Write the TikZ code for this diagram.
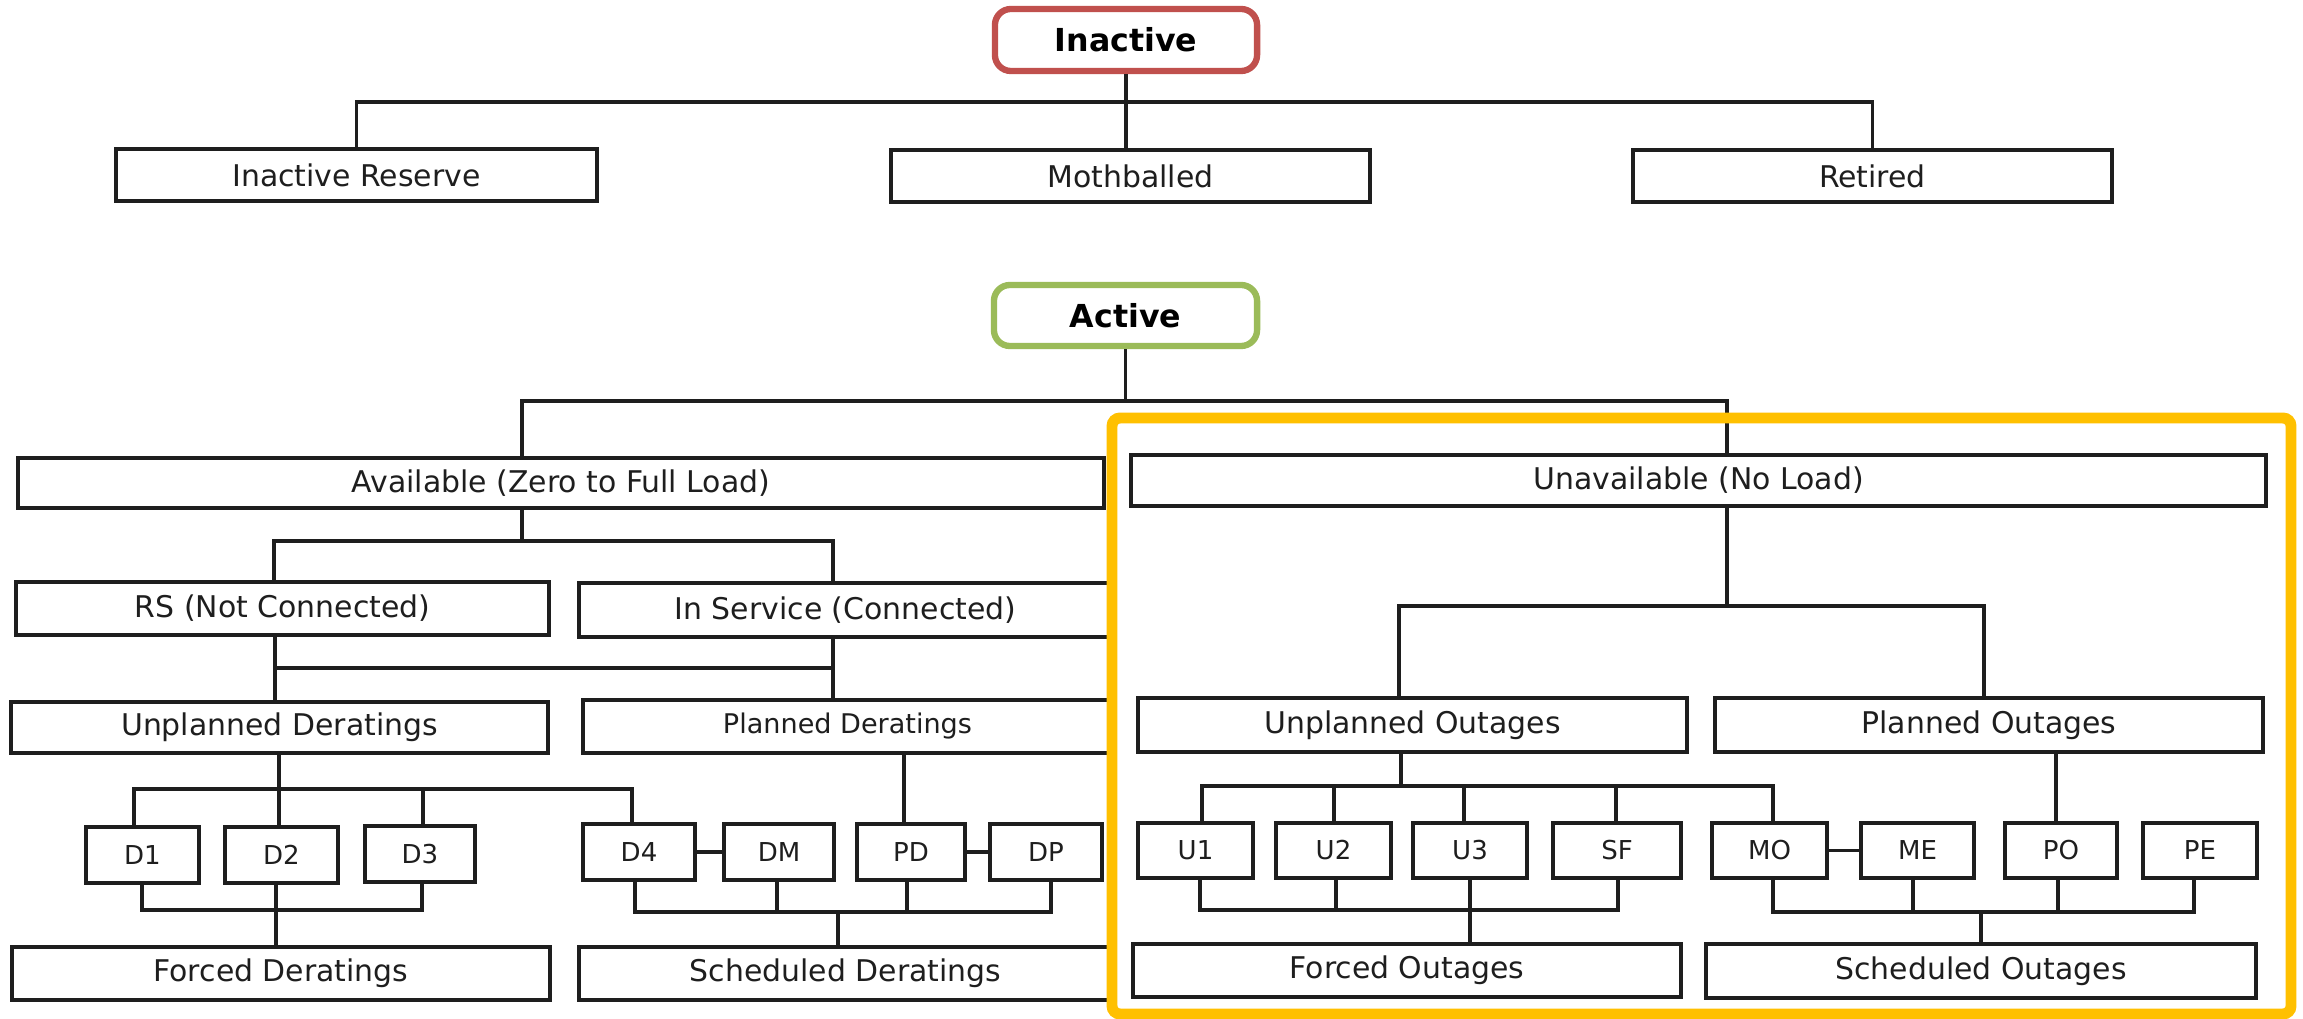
\documentclass[tikz,border=0pt]{standalone}
\usepackage{fontspec}
\setmainfont{DejaVu Sans}
\definecolor{inactred}{HTML}{C0504D}
\definecolor{actgreen}{HTML}{9BBB59}
\definecolor{frameyellow}{HTML}{FFC000}
\definecolor{inkgrey}{HTML}{1E1E1E}

% state box placed by its corners: [style]{x1}{y1}{x2}{y2}{name}{text}
\newcommand\statebox[7][box]{%
  \pgfmathsetmacro\sbw{(#4-#2)/100}%
  \pgfmathsetmacro\sbh{(#5-#3)/100}%
  \node[#1, minimum width=\sbw cm, minimum height=\sbh cm] (#6) at ({(#2+#4)/2},{(#3+#5)/2}) {#7};}

\tikzset{
  box/.style={draw=inkgrey, fill=white, line width=1.2pt, inner sep=0pt,
    font=\fontsize{8.5pt}{10pt}\selectfont, text=inkgrey},
  codebox/.style={box, font=\fontsize{7.4pt}{9pt}\selectfont},
  headbox/.style={draw, fill=white, rounded corners=0.16cm, line width=1.8pt, inner sep=0pt,
    font=\bfseries\fontsize{9pt}{11pt}\selectfont, text=black},
  link/.style={line width=1pt, draw=inkgrey},
  focusframe/.style={draw=frameyellow, line width=3.1pt, rounded corners=0.08cm}
}

\begin{document}
\begin{tikzpicture}[x=0.01cm, y=-0.01cm]
\fill[white] (0,0) rectangle (2303,1019);
\useasboundingbox (0,0) rectangle (2303,1019);

% ---------- inactive branch ----------
\statebox[headbox, draw=inactred]{995}{9}{1257}{71}{inact}{Inactive}
\statebox{116}{149}{597}{201}{ires}{Inactive Reserve}
\statebox{891}{150}{1370}{202}{moth}{Mothballed}
\statebox{1633}{150}{2112}{202}{ret}{Retired}
\coordinate (busI) at (1126,102);
\draw[link] (inact.south) -- (inact.south |- moth.north);
\draw[link] (ires.north) |- (busI) -| (ret.north);

% ---------- active branch ----------
\statebox[headbox, draw=actgreen]{994}{285}{1257}{346}{act}{Active}
\statebox{18}{458}{1104}{508}{avail}{Available (Zero to Full Load)}
\statebox{1131}{455}{2266}{506}{unav}{Unavailable (No Load)}
\coordinate (tA) at (522,401);
\coordinate (tU) at (1727,401);
\draw[link] (act.south) -- (act.south |- tA);
\draw[link] (avail.north -| tA) -- (tA) -- (tU) -- (unav.north -| tU);

% ---------- available side ----------
\statebox{16}{582}{549}{635}{rs}{RS (Not Connected)}
\statebox{579}{583}{1112}{637}{insvc}{In Service (Connected)}
\coordinate (tB) at (522,541);
\coordinate (tB1) at (274,541);
\coordinate (tB2) at (833,541);
\draw[link] (avail.south -| tB) -- (tB);
\draw[link] (rs.north -| tB1) -- (tB1) -- (tB2) -- (insvc.north -| tB2);

\statebox{11}{702}{548}{753}{ud}{Unplanned Deratings}
\statebox[box, font=\fontsize{7.7pt}{9pt}\selectfont]{583}{700}{1112}{753}{pdr}{Planned Deratings}
\coordinate (tC1) at (275,668);
\coordinate (tC2) at (833,668);
\draw[link] (rs.south -| tC1) -- (ud.north -| tC1);
\draw[link] (insvc.south -| tC2) -- (pdr.north -| tC2);
\draw[link] (tC1) -- (tC2);

\statebox[codebox]{86}{827}{199}{883}{d1}{D1}
\statebox[codebox]{225}{827}{338}{883}{d2}{D2}
\statebox[codebox]{365}{826}{475}{882}{d3}{D3}
\statebox[codebox]{583}{824}{695}{880}{d4}{D4}
\statebox[codebox]{724}{824}{834}{880}{dm}{DM}
\statebox[codebox]{857}{824}{965}{880}{pd}{PD}
\statebox[codebox]{990}{824}{1102}{880}{dp}{DP}
\coordinate (tD1) at (134,789);
\coordinate (tD2) at (279,789);
\coordinate (tD3) at (423,789);
\coordinate (tD4) at (632,789);
\draw[link] (ud.south -| tD2) -- (d2.north -| tD2);
\draw[link] (d1.north -| tD1) -- (tD1) -- (tD4) -- (d4.north -| tD4);
\draw[link] (d3.north -| tD3) -- (tD3);
\draw[link] (d4.east) -- (dm.west);
\draw[link] (pd.east) -- (dp.west);
\coordinate (tPD) at (904,790);
\draw[link] (pdr.south -| tPD) -- (pd.north -| tPD);

\statebox{12}{947}{550}{1000}{fd}{Forced Deratings}
\statebox{579}{947}{1112}{1000}{sd}{Scheduled Deratings}
\coordinate (tE1) at (142,910);
\coordinate (tE2) at (276,910);
\coordinate (tE3) at (422,910);
\draw[link] (d1.south -| tE1) -- (tE1) -- (tE3) -- (d3.south -| tE3);
\draw[link] (d2.south -| tE2) -- (fd.north -| tE2);
\coordinate (tF1) at (635,912);
\coordinate (tF2) at (777,912);
\coordinate (tF3) at (907,912);
\coordinate (tF4) at (1051,912);
\coordinate (tFs) at (838,912);
\draw[link] (d4.south -| tF1) -- (tF1) -- (tF4) -- (dp.south -| tF4);
\draw[link] (dm.south -| tF2) -- (tF2);
\draw[link] (pd.south -| tF3) -- (tF3);
\draw[link] (tFs) -- (sd.north -| tFs);

% ---------- unavailable side ----------
\statebox{1138}{698}{1687}{752}{uno}{Unplanned Outages}
\statebox{1715}{698}{2263}{752}{plo}{Planned Outages}
\coordinate (tG) at (1727,606);
\coordinate (tG1) at (1399,606);
\coordinate (tG2) at (1984,606);
\draw[link] (unav.south -| tG) -- (tG);
\draw[link] (uno.north -| tG1) -- (tG1) -- (tG2) -- (plo.north -| tG2);

\statebox[codebox]{1138}{823}{1253}{878}{u1}{U1}
\statebox[codebox]{1276}{823}{1391}{878}{u2}{U2}
\statebox[codebox]{1413}{823}{1527}{878}{u3}{U3}
\statebox[codebox]{1553}{823}{1681}{878}{sf}{SF}
\statebox[codebox]{1712}{823}{1827}{878}{mo}{MO}
\statebox[codebox]{1861}{823}{1974}{878}{me}{ME}
\statebox[codebox]{2005}{823}{2117}{878}{po}{PO}
\statebox[codebox]{2143}{823}{2257}{878}{pe}{PE}
\coordinate (tH) at (1401,786);
\coordinate (tH1) at (1202,786);
\coordinate (tH2) at (1334,786);
\coordinate (tH3) at (1464,786);
\coordinate (tH4) at (1616,786);
\coordinate (tH5) at (1773,786);
\draw[link] (uno.south -| tH) -- (tH);
\draw[link] (u1.north -| tH1) -- (tH1) -- (tH5) -- (mo.north -| tH5);
\draw[link] (u2.north -| tH2) -- (tH2);
\draw[link] (u3.north -| tH3) -- (tH3);
\draw[link] (sf.north -| tH4) -- (tH4);
\draw[link] (mo.east) -- (me.west);
\coordinate (tPO) at (2056,790);
\draw[link] (plo.south -| tPO) -- (po.north -| tPO);

\statebox{1133}{944}{1681}{997}{fo}{Forced Outages}
\statebox{1706}{944}{2256}{998}{so}{Scheduled Outages}
\coordinate (tI1) at (1200,910);
\coordinate (tI2) at (1336,910);
\coordinate (tI3) at (1470,910);
\coordinate (tI4) at (1618,910);
\draw[link] (u1.south -| tI1) -- (tI1) -- (tI4) -- (sf.south -| tI4);
\draw[link] (u2.south -| tI2) -- (tI2);
\draw[link] (u3.south -| tI3) -- (fo.north -| tI3);
\coordinate (tJ1) at (1773,912);
\coordinate (tJ2) at (1913,912);
\coordinate (tJ3) at (2058,912);
\coordinate (tJ4) at (2194,912);
\coordinate (tJs) at (1981,912);
\draw[link] (mo.south -| tJ1) -- (tJ1) -- (tJ4) -- (pe.south -| tJ4);
\draw[link] (me.south -| tJ2) -- (tJ2);
\draw[link] (po.south -| tJ3) -- (tJ3);
\draw[link] (tJs) -- (so.north -| tJs);

% ---------- highlight frame round the unavailable states ----------
\draw[focusframe] (1112,418) rectangle (2291,1014);
\end{tikzpicture}
\end{document}
